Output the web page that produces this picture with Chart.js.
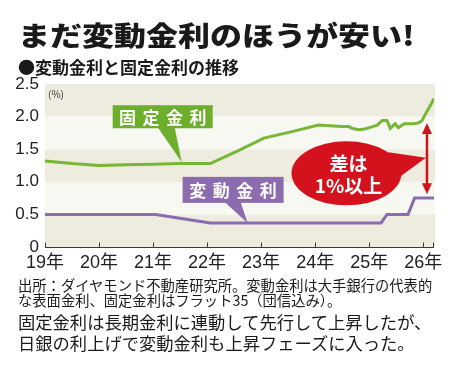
<!DOCTYPE html>
<html>
<head>
<meta charset="utf-8">
<script src="https://cdn.jsdelivr.net/npm/chart.js@4.4.1/dist/chart.umd.min.js"></script>
<style>
html, body { margin: 0; padding: 0; background: #fff; }
#wrap { position: relative; width: 450px; height: 374px; overflow: hidden;
        font-family: 'Noto Sans CJK JP', sans-serif; color: #1a1a1a; }
#chart { position: absolute; left: 0; top: 0; }
.t { position: absolute; left: 18px; white-space: nowrap; line-height: 1; }
#title { top: 21px; font-size: 32px; font-weight: 900; transform: scale(1, 0.84); transform-origin: 0 0; }
#subtitle { top: 58px; font-size: 17px; font-weight: 700; }
#note1 { top: 278px; font-size: 14.3px; }
#note2 { top: 293px; font-size: 14.3px; }
#cap1 { top: 313px; font-size: 17.3px; }
#cap2 { top: 334px; font-size: 17.3px; }
</style>
</head>
<body>
<div id="wrap">
  <canvas id="chart" width="450" height="374"></canvas>
  <div class="t" id="title">まだ変動金利のほうが安い!</div>
  <div class="t" id="subtitle">●変動金利と固定金利の推移</div>
  <div class="t" id="note1">出所：ダイヤモンド不動産研究所。変動金利は大手銀行の代表的</div>
  <div class="t" id="note2">な表面金利、固定金利はフラット35（団信込み）。</div>
  <div class="t" id="cap1">固定金利は長期金利に連動して先行して上昇したが、</div>
  <div class="t" id="cap2">日銀の利上げで変動金利も上昇フェーズに入った。</div>
</div>
<script>
// Values (year as decimal, rate in %)
var fixedYears = [2019.00, 2019.50, 2020.00, 2020.50, 2021.00, 2021.50, 2022.06, 2022.56,
    2023.05, 2023.57, 2024.06, 2024.49, 2024.62, 2024.68, 2024.80, 2024.92, 2025.08,
    2025.15, 2025.24, 2025.33, 2025.39, 2025.48, 2025.54, 2025.65, 2025.80, 2025.90,
    2025.97, 2026.05, 2026.14, 2026.20];
var fixedRates = [1.32, 1.28, 1.25, 1.26, 1.27, 1.28, 1.28, 1.47,
    1.67, 1.77, 1.87, 1.85, 1.85, 1.82, 1.80, 1.81, 1.85,
    1.87, 1.94, 1.94, 1.82, 1.89, 1.83, 1.89, 1.89, 1.90,
    1.93, 2.05, 2.18, 2.28];

var floatYears = [2019.00, 2021.05, 2022.06, 2025.22, 2025.33, 2025.72, 2025.84, 2026.20];
var floatRates = [0.50, 0.50, 0.37, 0.37, 0.50, 0.50, 0.75, 0.75];

var yearTicks = [2019, 2020, 2021, 2022, 2023, 2024, 2025, 2026];
var yearLabels = ['19年', '20年', '21年', '22年', '23年', '24年', '25年', '26年'];
var rateTicks = [0, 0.5, 1.0, 1.5, 2.0, 2.5];
var rateLabels = ['0', '0.5', '1.0', '1.5', '2.0', '2.5'];

var GREEN = '#77b735';
var GREEN_BOX = '#6dae2d';
var PURPLE = '#8b6cae';
var RED = '#d3121d';
var BAND_DARK = '#eeecdf';
var BAND_LIGHT = '#f8f8f2';
var JP = "'Noto Sans CJK JP', sans-serif";

function toPoints(xs, ys) {
    var pts = [];
    for (var i = 0; i < xs.length; i++) {
        pts.push({ x: xs[i], y: ys[i] });
    }
    return pts;
}

function toPx(chart, x, y) {
    return { x: chart.scales.x.getPixelForValue(x), y: chart.scales.y.getPixelForValue(y) };
}

// Alternating background bands between y ticks
function drawBands(chart) {
    var ctx = chart.ctx;
    var area = chart.chartArea;
    var ys = chart.scales.y;
    ctx.save();
    for (var i = 0; i < rateTicks.length - 1; i++) {
        var y0 = ys.getPixelForValue(rateTicks[i]);
        var y1 = ys.getPixelForValue(rateTicks[i + 1]);
        ctx.fillStyle = (i % 2 === 0) ? BAND_DARK : BAND_LIGHT;
        ctx.fillRect(area.left, y1, area.right - area.left + 1, y0 - y1);
    }
    ctx.restore();
}

// Bottom axis line with inward ticks
function drawAxis(chart) {
    var ctx = chart.ctx;
    var area = chart.chartArea;
    var xs = chart.scales.x;
    var y = Math.round(area.bottom) + 0.5;
    ctx.save();
    ctx.strokeStyle = '#3a3a3a';
    ctx.lineWidth = 1;
    ctx.beginPath();
    ctx.moveTo(area.left, y);
    ctx.lineTo(area.right, y);
    var marks = yearTicks.concat([xs.max]);
    for (var i = 0; i < marks.length; i++) {
        var x = Math.round(xs.getPixelForValue(marks[i])) + 0.5;
        if (i === marks.length - 1) { x -= 1; }
        ctx.moveTo(x, y);
        ctx.lineTo(x, y - 5);
    }
    ctx.stroke();
    ctx.fillStyle = '#333';
    ctx.font = '10px ' + JP;
    ctx.textBaseline = 'middle';
    ctx.fillText('(%)', area.left + 3, area.top + 10);
    ctx.restore();
}

function drawSpacedText(ctx, text, cx, cy, pitch) {
    var start = cx - pitch * (text.length - 1) / 2;
    for (var i = 0; i < text.length; i++) {
        ctx.fillText(text[i], start + i * pitch, cy);
    }
}

function drawLabelBox(chart, anchor, box, color, text) {
    var ctx = chart.ctx;
    var tip = toPx(chart, anchor[0], anchor[1]);
    var left = tip.x + box.dx;
    var top = tip.y + box.dy;
    ctx.save();
    ctx.fillStyle = color;
    ctx.fillRect(left, top, box.w, box.h);
    ctx.beginPath();
    ctx.moveTo(tip.x + box.tail[0], top + box.h - 1);
    ctx.lineTo(tip.x + box.tail[1], top + box.h - 1);
    ctx.lineTo(tip.x, tip.y);
    ctx.closePath();
    ctx.fill();
    ctx.fillStyle = '#fff';
    ctx.font = 'bold 17px ' + JP;
    ctx.textAlign = 'center';
    ctx.textBaseline = 'middle';
    drawSpacedText(ctx, text, left + box.w / 2, top + box.h / 2 + 1, 23.5);
    ctx.restore();
}

function drawGapCallout(chart) {
    var ctx = chart.ctx;
    var c = toPx(chart, 2024.58, 1.13);
    var tip = toPx(chart, 2026.05, 1.37);
    var top = toPx(chart, 2026.07, 1.90);
    var bottom = toPx(chart, 2026.07, 0.81);
    ctx.save();
    ctx.fillStyle = RED;
    ctx.beginPath();
    ctx.ellipse(c.x, c.y, 55, 32, 0, 0, Math.PI * 2);
    ctx.fill();
    ctx.beginPath();
    ctx.moveTo(c.x + 42, c.y - 21);
    ctx.lineTo(tip.x, tip.y);
    ctx.lineTo(c.x + 50, c.y + 6);
    ctx.closePath();
    ctx.fill();

    // double-headed arrow
    ctx.strokeStyle = RED;
    ctx.lineWidth = 2.5;
    ctx.beginPath();
    ctx.moveTo(top.x, top.y + 8);
    ctx.lineTo(bottom.x, bottom.y - 8);
    ctx.stroke();
    ctx.beginPath();
    ctx.moveTo(top.x, top.y);
    ctx.lineTo(top.x - 5, top.y + 11);
    ctx.lineTo(top.x + 5, top.y + 11);
    ctx.closePath();
    ctx.moveTo(bottom.x, bottom.y);
    ctx.lineTo(bottom.x - 5, bottom.y - 11);
    ctx.lineTo(bottom.x + 5, bottom.y - 11);
    ctx.closePath();
    ctx.fill();

    ctx.fillStyle = '#fff';
    ctx.font = 'bold 19px ' + JP;
    ctx.textAlign = 'center';
    ctx.textBaseline = 'middle';
    ctx.fillText('差は', c.x + 2, c.y - 10);
    ctx.fillText('1%以上', c.x + 2, c.y + 12);
    ctx.restore();
}

var calloutPlugin = {
    id: 'callouts',
    beforeDraw: function (chart) {
        drawBands(chart);
    },
    afterDatasetsDraw: function (chart) {
        drawAxis(chart);
        drawLabelBox(chart, [2021.53, 1.30], { dx: -69, dy: -57, w: 100, h: 23, tail: [-24, -7] },
            GREEN_BOX, '固定金利');
        drawLabelBox(chart, [2022.75, 0.37], { dx: -65, dy: -46, w: 101, h: 26, tail: [-23, -7] },
            PURPLE, '変動金利');
        drawGapCallout(chart);
    }
};

var chart = new Chart(document.getElementById('chart').getContext('2d'), {
    type: 'line',
    data: {
        datasets: [{
            label: '固定金利',
            data: toPoints(fixedYears, fixedRates),
            borderColor: GREEN,
            borderWidth: 3,
            pointRadius: 0,
            tension: 0
        }, {
            label: '変動金利',
            data: toPoints(floatYears, floatRates),
            borderColor: PURPLE,
            borderWidth: 3,
            pointRadius: 0,
            tension: 0
        }]
    },
    options: {
        responsive: false,
        animation: false,
        layout: { padding: { top: 84, left: 0, right: 16, bottom: 100 } },
        plugins: { legend: { display: false }, tooltip: { enabled: false } },
        scales: {
            x: {
                type: 'linear',
                min: 2019,
                max: 2026.2,
                afterBuildTicks: function (scale) {
                    scale.ticks = yearTicks.map(function (v) { return { value: v }; });
                },
                afterFit: function (scale) { scale.height = 27; },
                grid: { display: false, drawTicks: false },
                border: { display: false },
                ticks: {
                    autoSkip: false,
                    maxRotation: 0,
                    padding: 5,
                    color: '#222',
                    font: { family: "'Liberation Sans', 'Noto Sans CJK JP', sans-serif", size: 18 },
                    callback: function (value) {
                        var i = yearTicks.indexOf(value);
                        return i >= 0 ? yearLabels[i] : '';
                    }
                }
            },
            y: {
                min: 0,
                max: 2.5,
                afterBuildTicks: function (scale) {
                    scale.ticks = rateTicks.map(function (v) { return { value: v }; });
                },
                afterFit: function (scale) { scale.width = 45; },
                grid: { display: false, drawTicks: false },
                border: { display: false },
                ticks: {
                    padding: 6,
                    color: '#222',
                    font: { family: "'Liberation Sans', sans-serif", size: 17 },
                    callback: function (value) {
                        var i = rateTicks.indexOf(value);
                        return i >= 0 ? rateLabels[i] : '';
                    }
                }
            }
        }
    },
    plugins: [calloutPlugin]
});
</script>
</body>
</html>
